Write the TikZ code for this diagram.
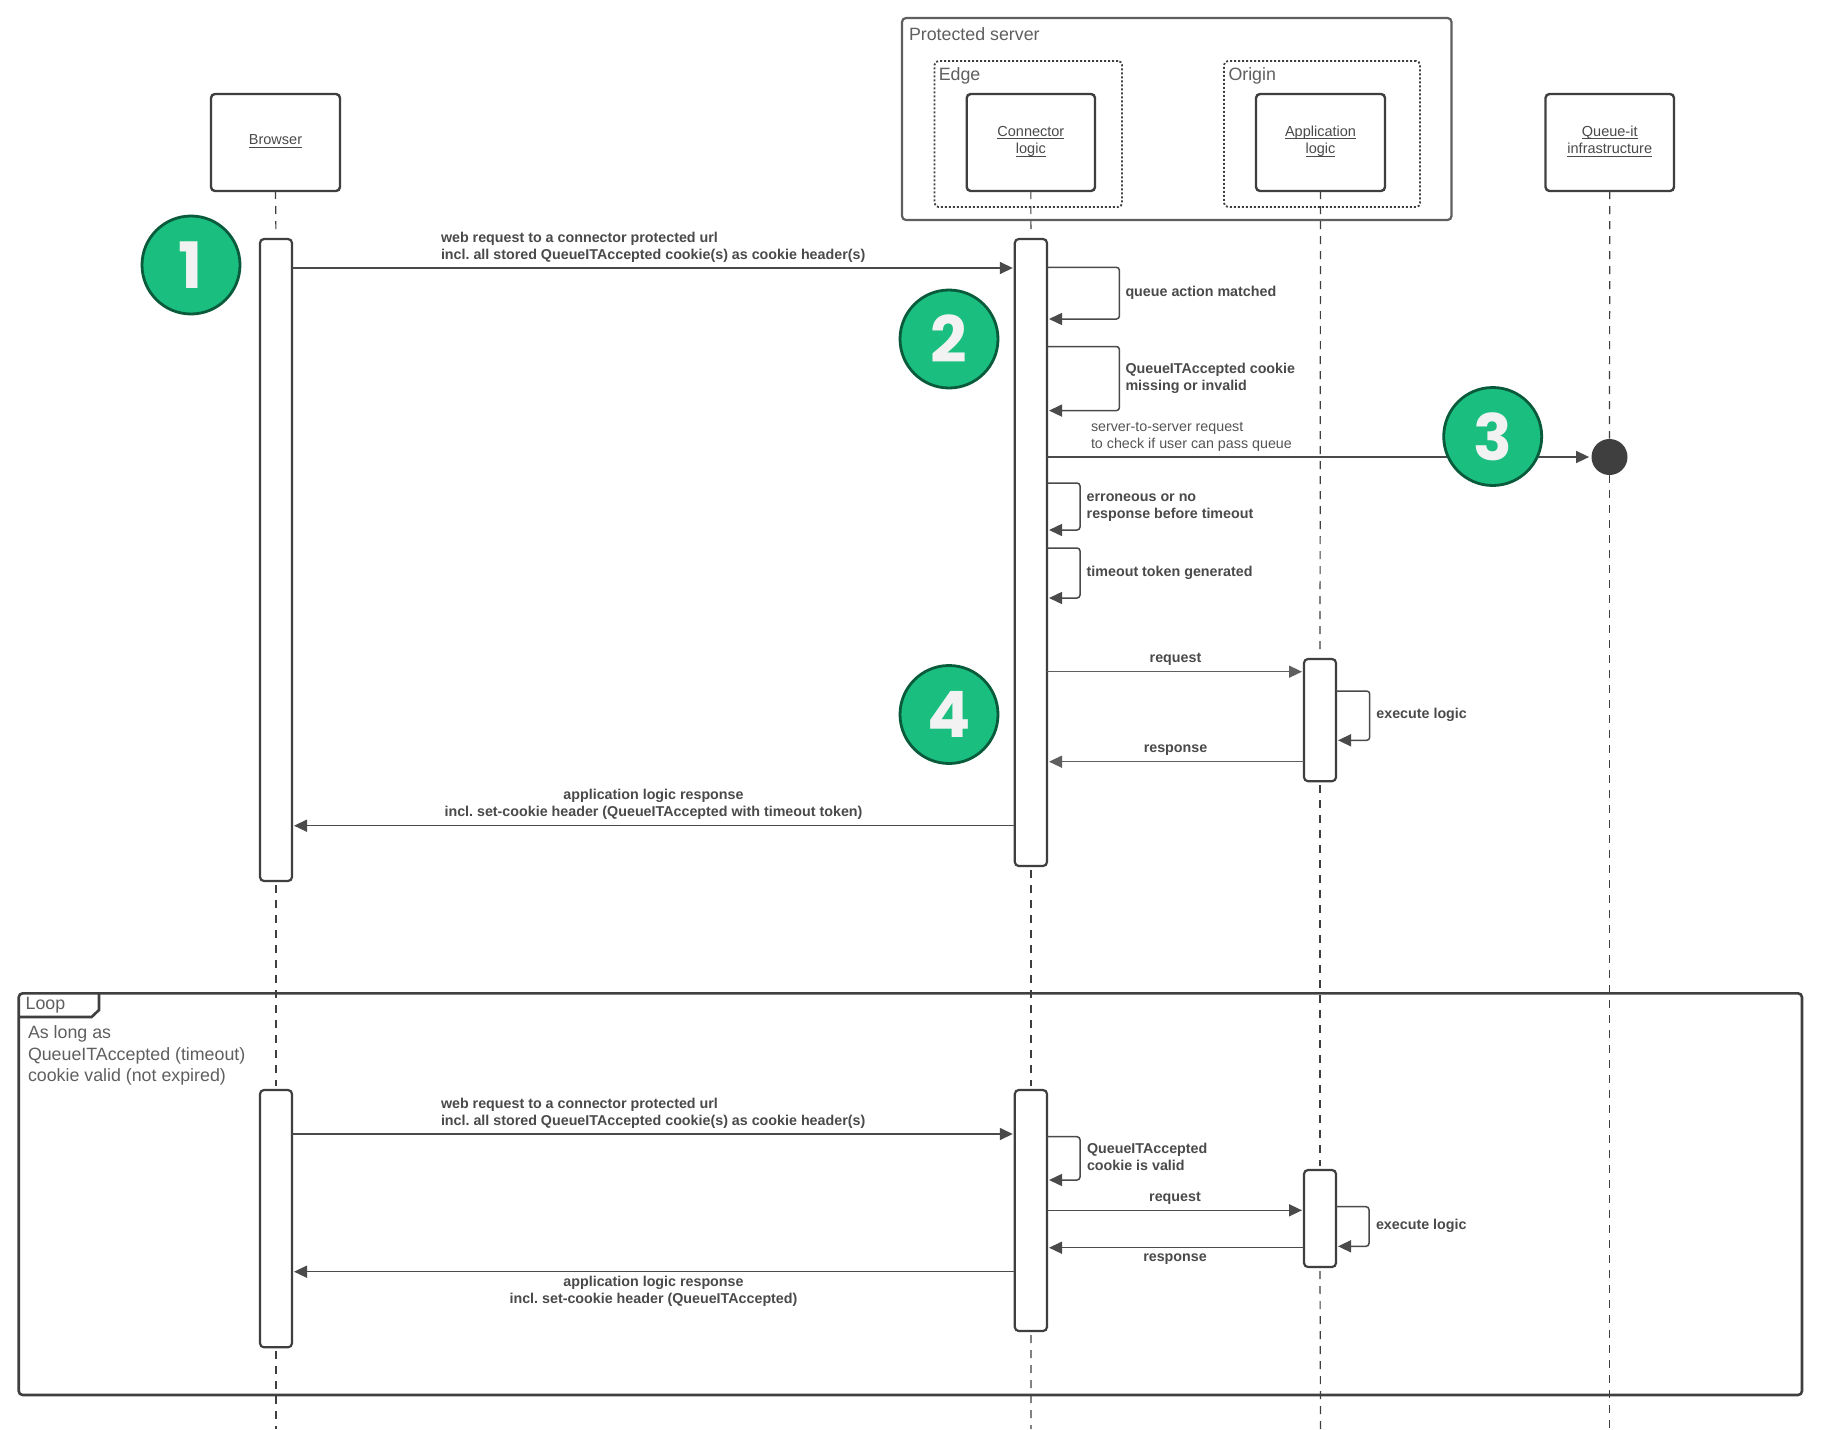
\documentclass[tikz,border=0pt]{standalone}
\usepackage{fontspec}
\setmainfont{Liberation Sans}
\newfontfamily\numfont{Poppins}
\usetikzlibrary{arrows.meta}
\frenchspacing
\definecolor{ln}{HTML}{3F3F3F}
\definecolor{lnm}{HTML}{4A4A4A}
\definecolor{lnlight}{HTML}{5F5F5F}
\definecolor{txt}{HTML}{555555}
\definecolor{txtb}{HTML}{4A4A4A}
\definecolor{grn}{HTML}{1ABF80}
\definecolor{grnd}{HTML}{0A5A3C}
\tikzset{
  fr/.style={draw=#1,rounded corners=2pt,inner sep=0pt,outer sep=0pt},
  fr/.default=ln,
  actor/.style={fr,line width=1.2pt,fill=white,align=center,text=txtb,font=\fontsize{7.25}{8.7}\selectfont},
  outer/.style={fr=lnlight,line width=1.1pt},
  dotbox/.style={draw=ln,line width=0.9pt,rounded corners=2pt,dash pattern=on 1pt off 1pt,inner sep=0pt,outer sep=0pt},
  loopbox/.style={fr,line width=1.3pt},
  bar/.style={fr,line width=1.1pt,fill=white},
  life/.style={draw=ln,line width=0.6pt,dash pattern=on 4pt off 3.5pt},
  msg/.style={draw=lnm,line width=0.75pt,-{Triangle[length=6.5pt,width=6pt]},shorten >=1pt},
  msgl/.style={msg,draw=lnlight,color=lnlight},
  selfm/.style={msg,rounded corners=1.5pt},
  lab/.style={inner sep=0pt,outer sep=0pt,text=txtb,align=left,font=\fontsize{7.14}{8.55}\selectfont\bfseries},
  labc/.style={lab,align=center},
  plain/.style={inner sep=0pt,outer sep=0pt,text=txt,align=left,font=\fontsize{7.14}{8.55}\selectfont},
  big/.style={inner sep=0pt,outer sep=0pt,text=lnlight,align=left,font=\fontsize{8.9}{10.7}\selectfont},
  badge/.style={circle,fill=grn,draw=grnd,line width=1.4pt,minimum size=49pt,inner sep=0pt,text=white!95!black,font=\fontsize{32}{34}\numfont\bfseries},
}
\newcommand{\bx}[7]{\node[#2,minimum width={(#5-#3)*0.5pt},minimum height={(#6-#4)*0.5pt}] (#1) at ({(#3+#5)/2},{(#4+#6)/2}) {#7};}
\newcommand{\ul}[1]{\underline{\smash{#1}}}
\newcommand{\twolines}[2]{\raisebox{0pt}[\height][\dimexpr\depth+1.2pt]{\begin{tabular}{@{}c@{}}\ul{#1}\\\ul{#2}\end{tabular}}}
\begin{document}
\begin{tikzpicture}[x=0.5pt,y=-0.5pt]
\useasboundingbox (0,0) rectangle (1830,1429);
\fill[white] (0,0) rectangle (1830,1429);
% frames
\bx{prot}{outer}{902}{18}{1451.5}{220}{}
\bx{edge}{dotbox}{934.5}{61}{1122}{207}{}
\bx{origin}{dotbox}{1224}{61}{1420}{207}{}
\bx{loopf}{loopbox}{18.7}{993.3}{1802}{1395}{}
\node[big,anchor=west] (tprot) at (909,34.2) {Protected server};
\node[big,anchor=west] (tedge) at (938.8,76) {Edge};
\node[big,anchor=west] (torigin) at (1228.5,76) {Origin};
\coordinate (tabc) at (99,1010);
\draw[draw=ln,line width=1.3pt] (loopf.west |- 0,1017) -- (91.6,1017) -- (tabc) -- (tabc |- loopf.north);
\node[big,anchor=west] (tloop) at (25.7,1005.2) {Loop};
\node[big,anchor=west] (tcond) at (28,1055.5) {As long as\\QueueITAccepted (timeout)\\cookie valid (not expired)};
% actors
\bx{browser}{actor}{211}{94}{340}{191}{\raisebox{-1.25pt}[0pt][0pt]{\ul{Browser}}}
\bx{conn}{actor}{966.7}{94}{1095}{191}{\twolines{Connector}{logic}}
\bx{app}{actor}{1256}{94}{1385}{191}{\twolines{Application}{logic}}
\bx{queue}{actor}{1545.5}{94}{1674}{191}{\twolines{Queue-it}{infrastructure}}
% activation bars
\bx{ba}{bar}{260}{239}{292}{881}{}
\bx{bb}{bar}{1014.8}{239}{1047}{866}{}
\bx{bc}{bar}{1304}{659}{1336}{781.2}{}
\bx{bd}{bar}{260}{1090}{292}{1347.3}{}
\bx{be}{bar}{1014.8}{1090}{1047}{1331}{}
\bx{bf}{bar}{1304}{1170}{1336}{1267}{}
\node[circle,fill=ln,minimum size=18pt,inner sep=0pt] (dot) at (1609.5,457) {};
% lifeline ends
\coordinate (ea) at (276,1429);
\coordinate (eb) at (1031,1429);
\coordinate (ec) at (1320.5,1429);
\coordinate (ed) at (1609.5,1429);
% lifelines
\path[life,shorten >=2pt] (browser.south) -- (ba.north);
\path[life,shorten <=2pt,shorten >=2pt] (ba.south) -- (bd.north);
\path[life,shorten <=2pt] (bd.south) -- (ea);
\path[life,shorten >=2pt] (conn.south) -- (bb.north);
\path[life,shorten <=2pt,shorten >=2pt] (bb.south) -- (be.north);
\path[life,shorten <=2pt] (be.south) -- (eb);
\path[life,shorten >=2pt] (app.south) -- (bc.north);
\path[life,shorten <=2pt,shorten >=2pt] (bc.south) -- (bf.north);
\path[life,shorten <=2pt] (bf.south) -- (ec);
\path[life] (queue.south) -- (dot.north);
\path[life] (dot.south) -- (ed);
% first part messages
\draw[msg] (ba.east |- 0,268) -- (bb.west |- 0,268);
\node[lab,anchor=west] (m1) at (441,247.2) {web request to a connector protected url\\incl. all stored QueueITAccepted cookie(s) as cookie header(s)};
\draw[selfm] (bb.east |- 0,267.3) -| (1119.4,319) -- (bb.east |- 0,319);
\node[lab,anchor=west] (m2) at (1125.5,292.6) {queue action matched};
\draw[selfm] (bb.east |- 0,346.5) -| (1119.4,410.6) -- (bb.east |- 0,410.6);
\node[lab,anchor=west] (m3) at (1125.5,378.2) {QueueITAccepted cookie\\missing or invalid};
\draw[msg] (bb.east |- dot) -- (dot.west);
\node[plain,anchor=west] (m4) at (1091,437.3) {server-to-server request\\to check if user can pass queue};
\draw[selfm] (bb.east |- 0,483) -| (1080,530) -- (bb.east |- 0,530);
\node[lab,anchor=west] (m5) at (1086.7,508) {erroneous or no\\response before timeout};
\draw[selfm] (bb.east |- 0,548) -| (1080,598) -- (bb.east |- 0,598);
\node[lab,anchor=west] (m6) at (1086.7,572.6) {timeout token generated};
\draw[msgl] (bb.east |- 0,671.7) -- (bc.west |- 0,671.7);
\node[labc] (m7) at (1175.5,659.5) {request};
\draw[selfm] (bc.east |- 0,691) -| (1369.7,740.3) -- (bc.east |- 0,740.3);
\node[lab,anchor=west] (m8) at (1376.4,715.2) {execute logic};
\draw[msgl] (bc.west |- 0,761.7) -- (bb.east |- 0,761.7);
\node[labc] (m9) at (1175.5,750) {response};
\draw[msg] (bb.west |- 0,825.7) -- (ba.east |- 0,825.7);
\node[labc] (m10) at (653.5,804.3) {application logic response\\incl. set-cookie header (QueueITAccepted with timeout token)};
% loop messages
\draw[msg] (bd.east |- 0,1134) -- (be.west |- 0,1134);
\node[lab,anchor=west] (n1) at (441,1113.7) {web request to a connector protected url\\incl. all stored QueueITAccepted cookie(s) as cookie header(s)};
\draw[selfm] (be.east |- 0,1136.7) -| (1080,1180) -- (be.east |- 0,1180);
\node[lab,anchor=west] (n2) at (1087,1157) {QueueITAccepted\\cookie is valid};
\draw[msg] (be.east |- 0,1210.3) -- (bf.west |- 0,1210.3);
\node[labc] (n3) at (1175,1198.2) {request};
\draw[selfm] (bf.east |- 0,1206.7) -| (1369,1246.3) -- (bf.east |- 0,1246.3);
\node[lab,anchor=west] (n4) at (1376,1226.2) {execute logic};
\draw[msg] (bf.west |- 0,1247.7) -- (be.east |- 0,1247.7);
\node[labc] (n5) at (1175,1259.2) {response};
\draw[msg] (be.west |- 0,1271.7) -- (bd.east |- 0,1271.7);
\node[labc] (n6) at (653.5,1291.7) {application logic response\\incl. set-cookie header (QueueITAccepted)};
% badges
\node[badge] (c1) at (191,265) {1};
\node[badge] (c2) at (949,339) {2};
\node[badge] (c3) at (1492.7,436.5) {3};
\node[badge] (c4) at (949,714.5) {4};
\end{tikzpicture}
\end{document}
